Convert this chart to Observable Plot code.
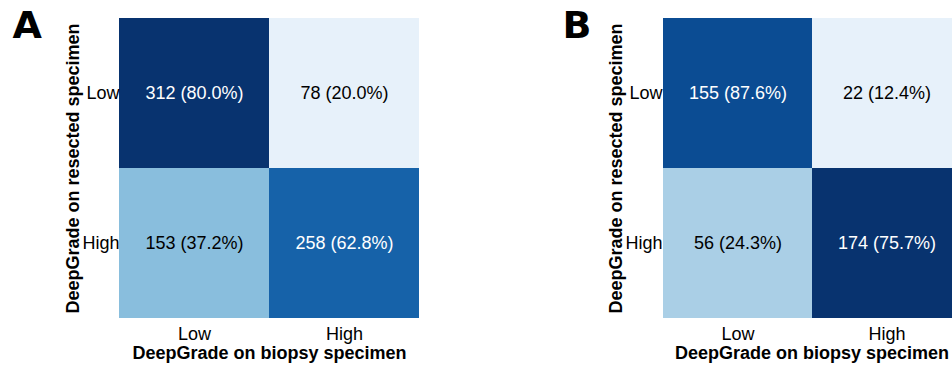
<!DOCTYPE html>
<html>
<head>
<meta charset="utf-8">
<script src="https://cdn.jsdelivr.net/npm/d3@7"></script>
<script src="https://cdn.jsdelivr.net/npm/@observablehq/plot@0.6"></script>
<style>
  html, body { margin: 0; padding: 0; background: #fff; }
  #wrap { position: relative; width: 952px; height: 365px; overflow: hidden; background: #fff; }
  #wrap svg { position: absolute; top: 0; overflow: visible; }
</style>
</head>
<body>
<div id="wrap"></div>
<script>
// categories (biopsy = x, resected = y)
const categories = ["Low", "High"];
// counts: rows = resected specimen (Low, High), columns = biopsy specimen (Low, High)
const countsA = [[312, 78], [153, 258]];
const countsB = [[155, 22], [56, 174]];
const panelLetters = ["A", "B"];
const xLabel = "DeepGrade on biopsy specimen";
const yLabel = "DeepGrade on resected specimen";

const FONT = "'Liberation Sans', Arial, sans-serif";

function buildTable(counts) {
  const rows = [];
  counts.forEach((row, i) => {
    const total = d3.sum(row);
    row.forEach((c, j) => {
      rows.push({y: categories[i], x: categories[j], count: c, pct: 100 * c / total});
    });
  });
  return rows;
}

function panel(counts, letter, opts) {
  const data = buildTable(counts);
  const [lo, hi] = d3.extent(data, d => d.count);
  const ramp = t => d3.interpolateBlues(0.08 + 0.91 * Math.pow(t, 0.85));
  const norm = c => (c - lo) / (hi - lo);
  return Plot.plot({
    width: opts.width,
    height: 365,
    marginTop: 18,
    marginBottom: 47,
    marginLeft: opts.marginLeft,
    marginRight: opts.marginRight,
    style: {fontFamily: FONT, fontSize: "18px", color: "#000", background: "transparent", overflow: "visible"},
    x: {domain: categories, padding: 0, label: null},
    y: {domain: categories, padding: 0, label: null},
    color: {type: "linear", domain: [lo, hi], interpolate: ramp},
    marks: [
      Plot.cell(data, {x: "x", y: "y", fill: "count", inset: 0}),
      Plot.text(data, {
        x: "x", y: "y",
        text: d => `${d.count} (${d.pct.toFixed(1)}%)`,
        fill: d => norm(d.count) > 0.5 ? "white" : "black",
        fontSize: 18
      }),
      Plot.axisX({tickSize: 0, tickPadding: 9, fontSize: 18, label: null}),
      Plot.axisY({tickSize: 0, tickPadding: 0, fontSize: 18, label: null}),
      Plot.text([xLabel], {frameAnchor: "bottom", dy: 40, lineAnchor: "bottom", textAnchor: "middle", fontWeight: "bold", fontSize: 18, text: d => d}),
      Plot.text([yLabel], {frameAnchor: "left", dx: -41, rotate: -90, lineAnchor: "bottom", textAnchor: "middle", fontWeight: "bold", fontSize: 18, text: d => d}),
      Plot.text([letter], {frameAnchor: "top-left", dx: opts.letterDx, dy: 19, lineAnchor: "bottom", textAnchor: "start", fontWeight: "bold", fontSize: 38, fontFamily: "'DejaVu Sans', sans-serif", text: d => d})
    ]
  });
}

const wrap = document.getElementById("wrap");
const a = panel(countsA, panelLetters[0], {width: 476, marginLeft: 119, marginRight: 57, letterDx: -107});
a.style.left = "0px";
wrap.appendChild(a);
const b = panel(countsB, panelLetters[1], {width: 490, marginLeft: 186, marginRight: 5, letterDx: -100});
b.style.left = "476px";
wrap.appendChild(b);
</script>
</body>
</html>
